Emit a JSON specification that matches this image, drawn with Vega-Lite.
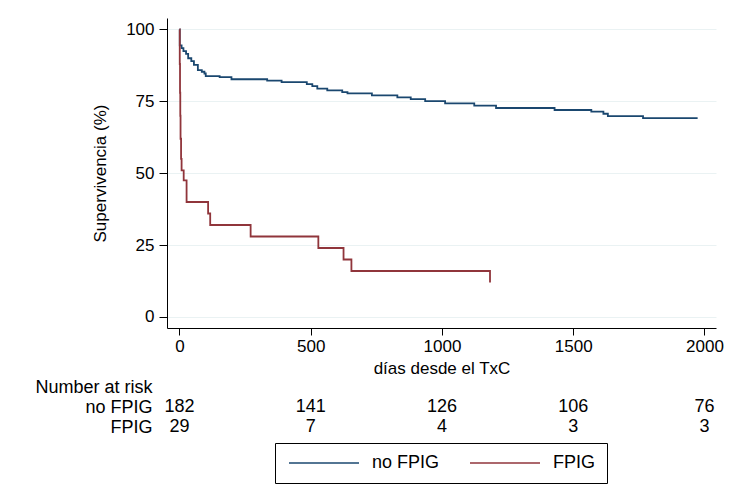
{
  "$schema": "https://vega.github.io/schema/vega-lite/v6.json",
  "background": "white",
  "padding": {"left": 34, "top": 18, "right": 20, "bottom": 10},
  "config": {
    "font": "Liberation Sans",
    "view": {"stroke": null},
    "concat": {"spacing": 1},
    "axis": {
      "labelColor": "black", "titleColor": "black", "domainColor": "black", "tickColor": "black",
      "labelFontSize": 17, "titleFontSize": 17, "titleFontWeight": "normal",
      "labelFont": "Liberation Sans", "titleFont": "Liberation Sans"
    }
  },
  "datasets": {
    "surv": [
      {"g": "no FPIG", "t": 0, "s": 100},
      {"g": "no FPIG", "t": 1, "s": 94.5},
      {"g": "no FPIG", "t": 8, "s": 93.5},
      {"g": "no FPIG", "t": 15, "s": 92.5},
      {"g": "no FPIG", "t": 25, "s": 91.5},
      {"g": "no FPIG", "t": 33, "s": 90},
      {"g": "no FPIG", "t": 45, "s": 89},
      {"g": "no FPIG", "t": 55, "s": 87.7},
      {"g": "no FPIG", "t": 70, "s": 85.9},
      {"g": "no FPIG", "t": 85, "s": 85.3},
      {"g": "no FPIG", "t": 95, "s": 84.7},
      {"g": "no FPIG", "t": 100, "s": 83.8},
      {"g": "no FPIG", "t": 153, "s": 83.4},
      {"g": "no FPIG", "t": 198, "s": 82.7},
      {"g": "no FPIG", "t": 334, "s": 82.2},
      {"g": "no FPIG", "t": 389, "s": 81.7},
      {"g": "no FPIG", "t": 485, "s": 81.0},
      {"g": "no FPIG", "t": 506, "s": 80.3},
      {"g": "no FPIG", "t": 525, "s": 79.4},
      {"g": "no FPIG", "t": 563, "s": 78.8},
      {"g": "no FPIG", "t": 620, "s": 78.2},
      {"g": "no FPIG", "t": 640, "s": 77.8},
      {"g": "no FPIG", "t": 733, "s": 77.1},
      {"g": "no FPIG", "t": 830, "s": 76.4},
      {"g": "no FPIG", "t": 881, "s": 75.8},
      {"g": "no FPIG", "t": 936, "s": 75.1},
      {"g": "no FPIG", "t": 1012, "s": 74.3},
      {"g": "no FPIG", "t": 1123, "s": 73.5},
      {"g": "no FPIG", "t": 1206, "s": 72.7},
      {"g": "no FPIG", "t": 1429, "s": 72.0},
      {"g": "no FPIG", "t": 1569, "s": 71.4},
      {"g": "no FPIG", "t": 1615, "s": 70.7},
      {"g": "no FPIG", "t": 1632, "s": 69.9},
      {"g": "no FPIG", "t": 1766, "s": 69.2},
      {"g": "no FPIG", "t": 1974, "s": 69.2},
      {"g": "FPIG", "t": 0, "s": 100},
      {"g": "FPIG", "t": 1, "s": 88},
      {"g": "FPIG", "t": 2, "s": 78},
      {"g": "FPIG", "t": 3, "s": 70},
      {"g": "FPIG", "t": 4, "s": 62},
      {"g": "FPIG", "t": 6, "s": 55},
      {"g": "FPIG", "t": 8, "s": 51},
      {"g": "FPIG", "t": 16, "s": 47.5},
      {"g": "FPIG", "t": 27, "s": 40},
      {"g": "FPIG", "t": 109, "s": 36},
      {"g": "FPIG", "t": 117, "s": 32},
      {"g": "FPIG", "t": 271, "s": 28},
      {"g": "FPIG", "t": 529, "s": 24},
      {"g": "FPIG", "t": 625, "s": 20},
      {"g": "FPIG", "t": 655, "s": 16},
      {"g": "FPIG", "t": 1183, "s": 12}
    ],
    "risk": [
      {"g": "no FPIG", "t": 0, "n": 182},
      {"g": "no FPIG", "t": 500, "n": 141},
      {"g": "no FPIG", "t": 1000, "n": 126},
      {"g": "no FPIG", "t": 1500, "n": 106},
      {"g": "no FPIG", "t": 2000, "n": 76},
      {"g": "FPIG", "t": 0, "n": 29},
      {"g": "FPIG", "t": 500, "n": 7},
      {"g": "FPIG", "t": 1000, "n": 4},
      {"g": "FPIG", "t": 1500, "n": 3},
      {"g": "FPIG", "t": 2000, "n": 3}
    ]
  },
  "vconcat": [
    {
      "width": 549,
      "height": 310,
      "data": {"name": "surv"},
      "mark": {"type": "line", "interpolate": "step-after", "strokeWidth": 1.8},
      "encoding": {
        "x": {
          "field": "t", "type": "quantitative",
          "scale": {"domain": [-47.6, 2044], "nice": false, "zero": false},
          "axis": {"values": [0, 500, 1000, 1500, 2000], "format": "d", "title": "días desde el TxC", "grid": false, "tickSize": 7, "labelPadding": 3, "titlePadding": 6}
        },
        "y": {
          "field": "s", "type": "quantitative",
          "scale": {"domain": [-3.83, 104], "nice": false, "zero": false},
          "axis": {"values": [0, 25, 50, 75, 100], "title": "Supervivencia (%)", "grid": true, "gridColor": "#eaf2f3", "tickSize": 8, "labelPadding": 5, "titlePadding": 16}
        },
        "color": {
          "field": "g", "type": "nominal",
          "scale": {"domain": ["no FPIG", "FPIG"], "range": ["#1a476f", "#90353b"]},
          "legend": {
            "orient": "none", "legendX": 108, "legendY": 425, "direction": "horizontal",
            "title": null, "symbolType": "M-1,0H10.667", "symbolSize": 144, "symbolStrokeWidth": 1.5,
            "labelFontSize": 18, "labelColor": "black", "labelOffset": 68, "columnPadding": 27,
            "padding": 11, "strokeColor": "black"
          }
        }
      }
    },
    {
      "width": 549,
      "height": 60,
      "data": {"name": "risk"},
      "mark": {"type": "text", "fontSize": 18, "align": "center", "baseline": "middle", "color": "black"},
      "encoding": {
        "x": {"field": "t", "type": "quantitative", "scale": {"domain": [-47.6, 2044], "nice": false, "zero": false}, "axis": null},
        "y": {
          "field": "g", "type": "ordinal",
          "scale": {"type": "point", "domain": ["Number at risk", "no FPIG", "FPIG"], "padding": 0.5},
          "axis": {"title": null, "domain": false, "ticks": false, "labelPadding": 15, "labelFontSize": 18}
        },
        "text": {"field": "n"}
      }
    }
  ]
}
